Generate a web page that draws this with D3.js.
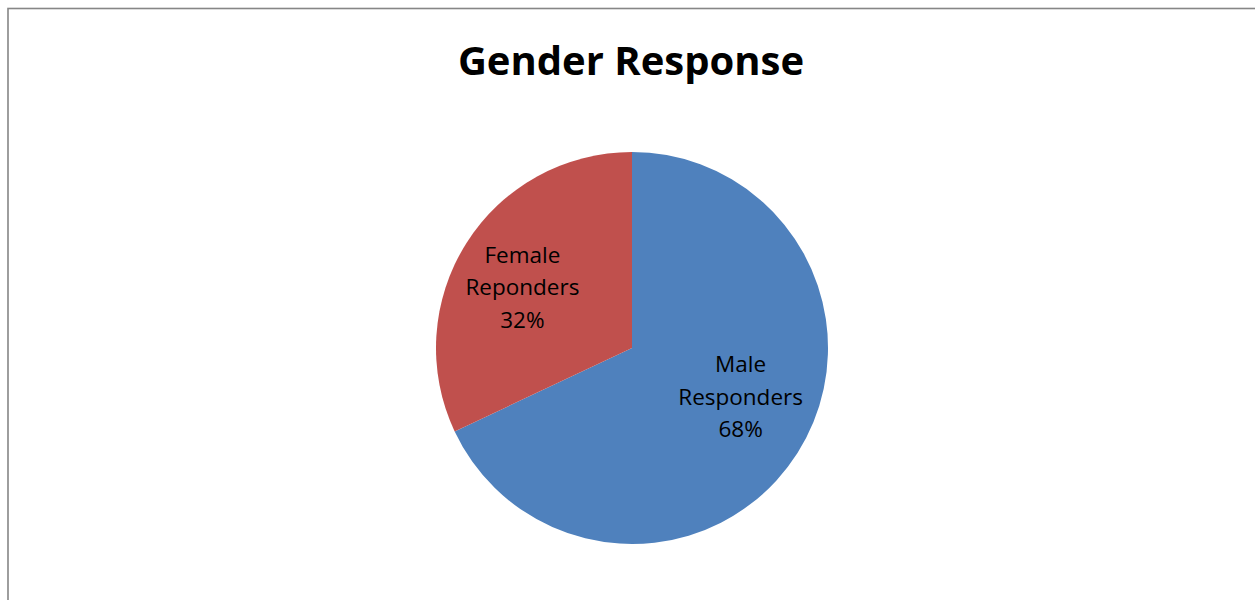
<!DOCTYPE html>
<html>
<head>
<meta charset="utf-8">
<script src="https://cdn.jsdelivr.net/npm/d3@7"></script>
<style>
html,body{margin:0;padding:0;background:#fff;overflow:hidden;}
</style>
</head>
<body>
<svg id="chart" width="1255" height="600"></svg>
<script>
const categories = ["Male Responders", "Female Reponders"];
const labelLines = [["Male", "Responders"], ["Female", "Reponders"]];
const values = [68, 32];
const colors = ["#4F81BD", "#C0504D"];
const title = "Gender Response";

const svg = d3.select("#chart");
const font = "'Open Sans', 'Noto Sans', sans-serif";

svg.append("rect")
  .attr("x", 8).attr("y", 8.5)
  .attr("width", 1300).attr("height", 700)
  .attr("fill", "#fff")
  .attr("stroke", "#868686").attr("stroke-width", 1.6);

svg.append("text")
  .attr("x", 631).attr("y", 75)
  .attr("text-anchor", "middle")
  .attr("font-family", font)
  .attr("font-weight", "bold")
  .attr("font-size", 40)
  .attr("fill", "#000")
  .text(title);

const cx = 632, cy = 348, r = 196;
const pie = d3.pie().sort(null).value(d => d)(values);
const arc = d3.arc().innerRadius(0).outerRadius(r);
const g = svg.append("g").attr("transform", `translate(${cx},${cy})`);

g.selectAll("path").data(pie).join("path")
  .attr("d", arc)
  .attr("fill", (d, i) => colors[i]);

const labelArc = d3.arc().innerRadius(r * 0.62).outerRadius(r * 0.62);
const nudge = [[6, -16], [-7, 5]];
const total = d3.sum(values);
pie.forEach((d, i) => {
  let [x, y] = labelArc.centroid(d);
  x += nudge[i][0]; y += nudge[i][1];
  const lines = [...labelLines[i], Math.round(d.value / total * 100) + "%"];
  const t = g.append("text")
    .attr("text-anchor", "middle")
    .attr("font-family", font)
    .attr("font-size", 22.5)
    .attr("fill", "#000");
  lines.forEach((ln, j) => {
    t.append("tspan")
      .attr("x", x)
      .attr("y", y + (j - 1) * 32.5 + 7.5)
      .text(ln);
  });
});
</script>
</body>
</html>
